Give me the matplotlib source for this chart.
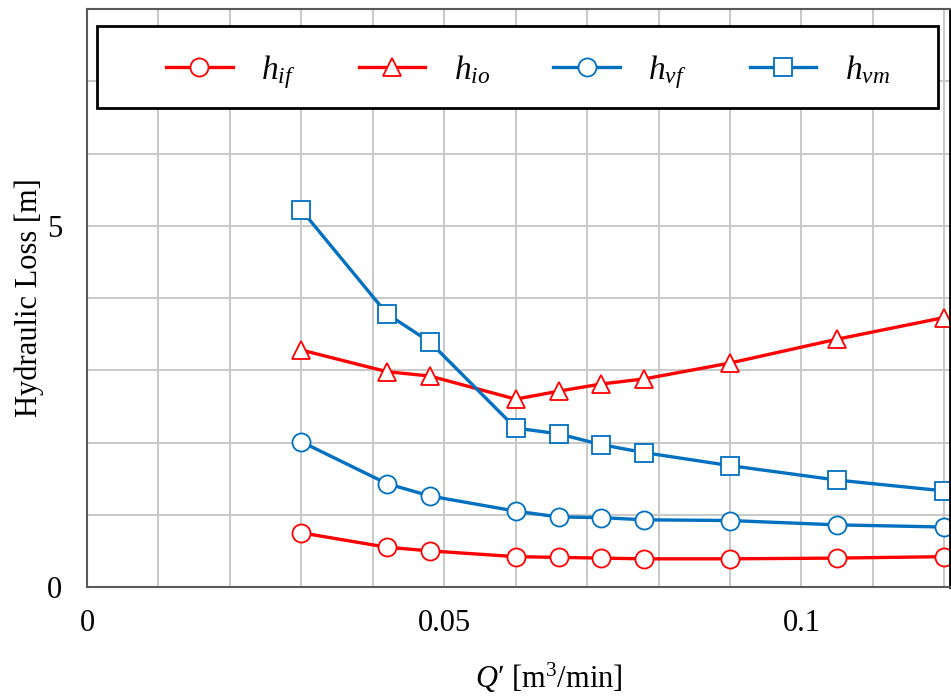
import matplotlib
matplotlib.use('Agg')
import matplotlib.pyplot as plt
from matplotlib.ticker import MultipleLocator
from matplotlib.patches import Rectangle

plt.rcParams['font.family'] = ['Liberation Serif', 'DejaVu Serif']
plt.rcParams['mathtext.fontset'] = 'custom'
plt.rcParams['mathtext.rm'] = 'Liberation Serif'
plt.rcParams['mathtext.it'] = 'Liberation Serif:italic'

# flow rate Q' [m3/min]
q = [0.030, 0.042, 0.048, 0.060, 0.066, 0.072, 0.078, 0.090, 0.105, 0.120]

# hydraulic losses [m]
h_if = [0.75, 0.55, 0.50, 0.42, 0.41, 0.40, 0.39, 0.39, 0.40, 0.42]
h_io = [3.28, 2.98, 2.92, 2.60, 2.71, 2.81, 2.88, 3.10, 3.43, 3.73]
h_vf = [2.01, 1.43, 1.26, 1.05, 0.97, 0.96, 0.93, 0.92, 0.86, 0.83]
h_vm = [5.22, 3.78, 3.39, 2.20, 2.12, 1.97, 1.86, 1.68, 1.48, 1.33]

red = '#ff0000'
blue = '#0070c0'

fig = plt.figure(figsize=(9.51, 6.97), dpi=100)
ax = fig.add_axes([87/951, 1 - 587/697, 863/951, 578/697])

style = dict(lw=2.4, ms=13, mfc='white', mew=1.3)
ax.plot(q, h_if, '-o', color=red, label=r'$h_{if}$', **style)
ax.plot(q, h_io, '-^', color=red, label=r'$h_{io}$', **style)
ax.plot(q, h_vf, '-o', color=blue, label=r'$h_{vf}$', **style)
ax.plot(q, h_vm, '-s', color=blue, label=r'$h_{vm}$', **style)

ax.set_xlim(0, 0.1208)
ax.set_ylim(0, 8)
ax.xaxis.set_minor_locator(MultipleLocator(0.01))
ax.yaxis.set_minor_locator(MultipleLocator(1))
ax.set_xticks([0, 0.05, 0.1])
ax.set_xticklabels(['0', '0.05', '0.1'])
ax.set_yticks([0, 5])
ax.set_yticklabels(['0', '5'])
ax.grid(True, which='both', color='#c8c8c8', lw=1.4)
ax.set_axisbelow(True)
ax.tick_params(which='both', length=0, labelsize=22)
ax.tick_params(axis='x', pad=16)
ax.tick_params(axis='y', pad=18)

for s in ['left', 'top', 'bottom']:
    ax.spines[s].set_color('#595959')
    ax.spines[s].set_linewidth(1.5)
ax.spines['right'].set_color('black')
ax.spines['right'].set_linewidth(2)

ax.set_xlabel(r"$Q$′ [m$^3$/min]", fontsize=22)
ax.xaxis.set_label_coords(0.535, -0.128)
ax.set_ylabel('Hydraulic Loss [m]', fontsize=22)
ax.yaxis.set_label_coords(-0.050, 0.5)

# legend box drawn separately so the entries can sit compact in the middle
x0, x1 = 10/863, (938-87)/863
y0, y1 = 1 - (108-9)/578, 1 - (26-9)/578
ax.add_patch(Rectangle((x0, y0), x1 - x0, y1 - y0, transform=ax.transAxes,
                       facecolor='white', edgecolor='black', lw=2, zorder=5))
leg = ax.legend(loc='center', bbox_to_anchor=((x0 + x1)/2 + 0.012, (y0 + y1)/2 - 5/578),
                ncol=4, fontsize=24, frameon=False, handlelength=2.0,
                handletextpad=0.85, columnspacing=1.9, borderaxespad=0)
leg.set_zorder(6)

fig.savefig('out.png', dpi=100)
